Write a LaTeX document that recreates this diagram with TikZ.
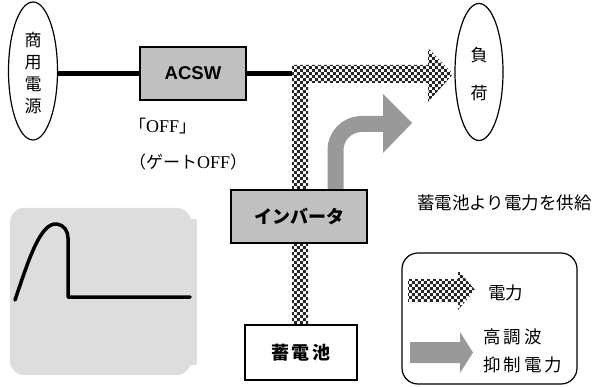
\documentclass[tikz,border=0pt]{standalone}
\usepackage{fontspec}
\usetikzlibrary{shapes.geometric,patterns.meta}
\newfontfamily\cjk{Noto Sans CJK JP}
\newfontfamily\arialf{Liberation Sans}
\newfontfamily\tms{Liberation Serif}
\definecolor{boxgray}{HTML}{C0C0C0}
\definecolor{arrgray}{HTML}{999999}
\definecolor{panelgray}{HTML}{DDDDDD}
\definecolor{chkdark}{HTML}{262626}
\tikzdeclarepattern{
  name=chk,
  type=uncolored,
  bounding box={(0pt,0pt) and (6.4pt,6.4pt)},
  tile size={(6.4pt,6.4pt)},
  code={\fill (0pt,0pt) rectangle (3.2pt,3.2pt); \fill (3.2pt,3.2pt) rectangle (6.4pt,6.4pt);}
}
\tikzset{
  oval/.style={ellipse, draw, line width=1.2pt, inner sep=0pt},
  graybox/.style={draw, line width=1.2pt, fill=boxgray, inner sep=0pt},
  whitebox/.style={draw, line width=1.2pt, fill=white, inner sep=0pt},
  checker/.style={preaction={fill=white}, pattern=chk, pattern color=chkdark},
  jtext/.style={font=\cjk\fontsize{17}{20}\selectfont, inner sep=0pt},
}
\newcommand{\offtxt}{{\tms\fontsize{18}{20}\selectfont OFF}}
\begin{document}
\begin{tikzpicture}[x=1pt,y=-1pt]
\useasboundingbox (0,0) rectangle (596,387);
% waveform panel
\fill[panelgray, rounded corners=14pt] (10,208) rectangle (191,375);
\fill[panelgray] (180,219) rectangle (197,365);
\draw[line width=3.5pt, line cap=round, line join=round]
  (15,300) .. controls (28,262) and (40,222) .. (57,224)
  .. controls (64,225) and (68,231) .. (68,238) -- (68,297) -- (190,297);
% checker main arrow
\path[checker] (292,325) -- (292,65) -- (428,65) -- (428,48) -- (453,74)
  -- (428,102) -- (428,83) -- (308,83) -- (308,325) -- cycle;
% curved gray arrow
\draw[arrgray, line width=16pt, rounded corners=26pt] (335.5,191) -- (335.5,124) -- (385,124);
\fill[arrgray] (383,94) -- (412,123) -- (383,153) -- cycle;
% nodes
\node[oval, minimum width=49pt, minimum height=138pt] (src) at (33,71) {};
\node[font=\cjk\fontsize{17}{22}\selectfont, align=center, inner sep=0pt] at (33,73) {商\\用\\電\\源};
\node[oval, minimum width=48pt, minimum height=137pt] (load) at (479,72) {};
\node[font=\cjk\fontsize{17}{38}\selectfont, align=center, inner sep=0pt] at (479,74) {負\\荷};
\node[graybox, minimum width=106pt, minimum height=53pt, font=\arialf\bfseries\fontsize{18.5}{20}\selectfont] (acsw) at (193,73.5) {ACSW};
\node[graybox, minimum width=136pt, minimum height=53pt, font=\cjk\bfseries\fontsize{18}{20}\selectfont] (inv) at (299,216.5) {インバータ};
\node[whitebox, minimum width=112pt, minimum height=55pt, font=\cjk\bfseries\fontsize{18}{20}\selectfont] (bat) at (301,352.5) {蓄\,電\,池};
\coordinate (junc) at (292,74);
\draw[line width=5pt] (src.east |- 0,74) -- (acsw.west |- 0,74);
\draw[line width=5pt] (acsw.east |- 0,74) -- (junc);
% labels
\node[jtext, anchor=west] (off) at (129,126) {「\offtxt」};
\node[jtext, anchor=west] (gate) at (129,162) {（ゲート\offtxt）};
\node[font=\cjk\fontsize{17.5}{20}\selectfont, inner sep=0pt, anchor=west] (supply) at (417,203) {蓄電池より電力を供給};
% legend
\node[draw, line width=1.2pt, rounded corners=16pt, minimum width=175pt, minimum height=131pt, inner sep=0pt] (leg) at (489.5,318.5) {};
\path[checker] (408,279) -- (458,279) -- (458,270) -- (475,290) -- (458,310) -- (458,302) -- (408,302) -- cycle;
\fill[arrgray] (410,342) -- (460,342) -- (460,332) -- (473,352.5) -- (460,373) -- (460,363) -- (410,363) -- cycle;
\node[font=\cjk\fontsize{17.5}{20}\selectfont, inner sep=0pt, anchor=west] (l1) at (488,293) {電力};
\node[font=\cjk\fontsize{17.5}{28}\selectfont, inner sep=0pt, anchor=west, align=left] (l2) at (483,351) {高\hspace{3pt}調\hspace{3pt}波\\抑\hspace{3pt}制\hspace{3pt}電\hspace{3pt}力};
\end{tikzpicture}
\end{document}
